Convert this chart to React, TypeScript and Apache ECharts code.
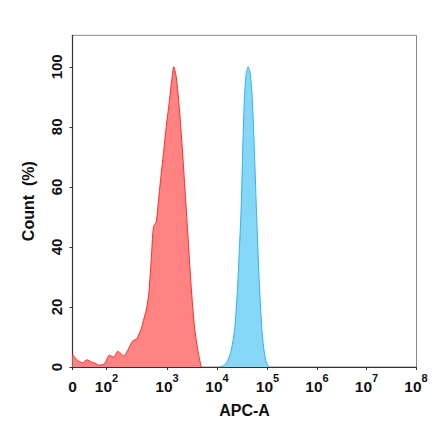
import React, { useEffect, useRef } from "react";
import * as echarts from "echarts";

// Axis tick values (intensity) and their display positions on the biexponential-like axis
const TICK_VALUES = [0, 100, 1e3, 1e4, 1e5, 1e6, 1e7, 1e8];
const TICK_POS = [0, 34, 94.5, 144.5, 195, 244.5, 294, 343.5];
const TICK_BASES = ["0", "10", "10", "10", "10", "10", "10", "10"];
const TICK_EXPS = ["", "2", "3", "4", "5", "6", "7", "8"];

const Y_TICKS = [0, 20, 40, 60, 80, 100];

// Red histogram (intensity, count %)
const RED_X = [0, 15, 30, 42, 55, 70, 77, 94, 112, 132, 154, 175, 193, 225, 272, 317, 375, 409, 453, 500, 548, 598, 663, 724, 802, 875, 970, 1122, 1247, 1368, 1528, 1778, 2014, 2270, 2606, 3048, 3548, 4130, 4831];
const RED_Y = [4.2, 2.2, 1.4, 2.4, 1.7, 1.1, 0.6, 1.1, 3.9, 3.3, 5.2, 4.4, 3.6, 5.6, 8.7, 9.4, 12.8, 15.6, 18.9, 24.4, 35.6, 46.7, 48.3, 55.6, 64.4, 71.1, 80, 88.9, 95.6, 100, 96.7, 85.6, 73.3, 60, 44.4, 26.7, 13.3, 5.6, 0];

// Blue histogram (intensity, count %)
const BLUE_X = [11210, 14077, 16367, 19100, 22210, 25120, 27890, 30130, 32430, 35060, 37870, 41490, 45430, 49750, 55270, 61380, 69430, 78530, 87220, 96880, 109700];
const BLUE_Y = [0, 0.6, 2.2, 5.6, 12.2, 24.4, 40, 53.3, 73.3, 90, 97.8, 100, 97.8, 90, 71.1, 48.9, 26.7, 11.1, 4.4, 1.1, 0];

function toAxis(v: number): number {
  if (v <= TICK_VALUES[1]) return (v / TICK_VALUES[1]) * TICK_POS[1];
  const lg = Math.log10(v);
  let d = Math.floor(lg);
  if (d >= 8) d = 7;
  const k = d - 1;
  return TICK_POS[k] + (lg - d) * (TICK_POS[k + 1] - TICK_POS[k]);
}

const FONT = "'Liberation Sans', Arial, Helvetica, sans-serif";

export default function App() {
  const ref = useRef<HTMLDivElement>(null);
  useEffect(() => {
    document.body.style.margin = "0";
    const chart = echarts.init(ref.current!, null, { renderer: "svg" });
    const red = RED_X.map((x, i) => [toAxis(x), RED_Y[i]]);
    const blue = BLUE_X.map((x, i) => [toAxis(x), BLUE_Y[i]]);
    chart.setOption({
      animation: false,
      backgroundColor: "#ffffff",
      grid: {
        left: 72.5,
        right: 23.5,
        top: 35.3,
        bottom: 74,
        show: true,
        borderColor: "#8a8a8a",
        borderWidth: 1,
        backgroundColor: "transparent",
      },
      xAxis: {
        type: "value",
        min: 0,
        max: 344,
        name: "APC-A",
        nameLocation: "middle",
        nameGap: 35,
        nameTextStyle: { fontFamily: FONT, fontWeight: "bold", fontSize: 16, color: "#111" },
        axisLine: { show: true, lineStyle: { color: "#333", width: 1.2 } },
        axisTick: {
          show: true,
          length: 3,
          customValues: TICK_POS,
          lineStyle: { color: "#333" },
        },
        splitLine: { show: false },
        axisLabel: {
          customValues: TICK_POS,
          margin: 5,
          formatter: (val: number) => {
            const i = TICK_POS.findIndex((p) => Math.abs(p - val) < 0.01);
            if (i < 0) return "";
            if (TICK_EXPS[i] === "") return "{b|" + TICK_BASES[i] + "}";
            return "{b|" + TICK_BASES[i] + "}{s|" + TICK_EXPS[i] + "}";
          },
          rich: {
            b: { fontFamily: FONT, fontWeight: "bold", fontSize: 15.5, color: "#111", lineHeight: 22, verticalAlign: "bottom" },
            s: { fontFamily: FONT, fontWeight: "bold", fontSize: 11, color: "#111", lineHeight: 12, verticalAlign: "top" },
          },
        },
      },
      yAxis: {
        type: "value",
        min: 0,
        max: 110.5,
        interval: 20,
        name: "Count  (%)",
        nameLocation: "middle",
        nameGap: 36,
        nameTextStyle: { fontFamily: FONT, fontWeight: "bold", fontSize: 16, color: "#111" },
        axisLine: { show: true, lineStyle: { color: "#333", width: 1.2 } },
        axisTick: { show: true, length: 3, customValues: Y_TICKS, lineStyle: { color: "#333" } },
        splitLine: { show: false },
        axisLabel: {
          customValues: Y_TICKS,
          rotate: 90,
          margin: 9,
          fontFamily: FONT,
          fontWeight: "bold",
          fontSize: 15,
          color: "#111",
        },
      },
      series: [
        {
          type: "line",
          data: red,
          smooth: 0.25,
          showSymbol: false,
          lineStyle: { color: "#ff2a2a", width: 1 },
          areaStyle: { color: "#ff8383", opacity: 1 },
          z: 2,
        },
        {
          type: "line",
          data: blue,
          smooth: 0.25,
          showSymbol: false,
          lineStyle: { color: "#2fb3ea", width: 1 },
          areaStyle: { color: "#86d6f6", opacity: 1 },
          z: 2,
        },
      ],
    });
    return () => chart.dispose();
  }, []);
  return (
    <div
      ref={ref}
      style={{ position: "absolute", left: 0, top: 0, width: 440, height: 441 }}
    />
  );
}
